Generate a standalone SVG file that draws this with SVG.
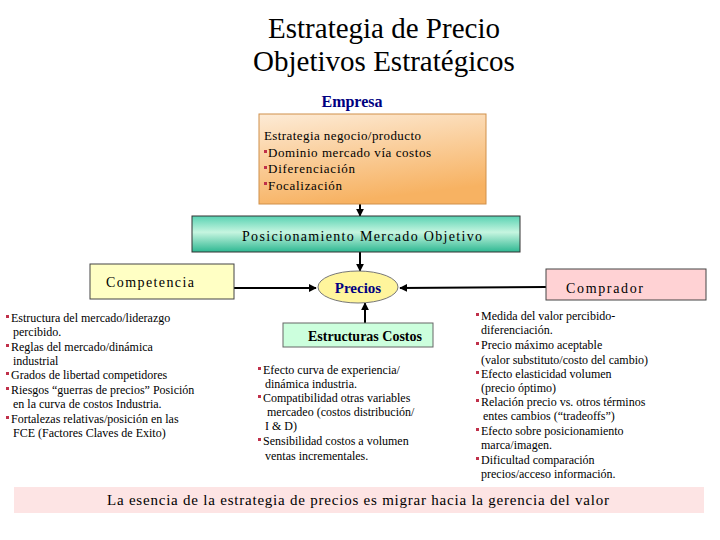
<svg xmlns="http://www.w3.org/2000/svg" width="720" height="540" viewBox="0 0 720 540" font-family="'Liberation Serif', 'Times New Roman', 'DejaVu Serif', serif">
<style>
text{font-family:'Liberation Serif','Times New Roman','DejaVu Serif',serif;fill:#000}
.title{font-size:29px}
.body{font-size:12px}
.bul{fill:#c0304a}
.conn{stroke:#000;stroke-width:2;fill:none}
</style>
<defs>
<linearGradient id="gOr" x1="0" y1="0" x2="0.3" y2="1">
<stop offset="0" stop-color="#fdebd6"/><stop offset="1" stop-color="#f7b262"/>
</linearGradient>
<linearGradient id="gGr" x1="0" y1="0" x2="0" y2="1">
<stop offset="0" stop-color="#58d2b2"/><stop offset="0.45" stop-color="#c6f5e0"/><stop offset="1" stop-color="#2eb892"/>
</linearGradient>
<marker id="ah" viewBox="0 0 10 10" refX="9" refY="5" markerWidth="4" markerHeight="4" orient="auto">
<path d="M0,0 L10,5 L0,10 z" fill="#000"/>
</marker>
</defs>
<rect width="720" height="540" fill="#fff"/>
<g id="title">
<text class="title" x="384" y="38" text-anchor="middle">Estrategia de Precio</text>
<text class="title" x="384" y="71" text-anchor="middle">Objetivos Estratégicos</text>
</g>
<g id="connectors">
<line class="conn" x1="360" y1="204" x2="360" y2="216" marker-end="url(#ah)"/>
<line class="conn" x1="360" y1="252" x2="360" y2="271" marker-end="url(#ah)"/>
<line class="conn" x1="234" y1="288" x2="316" y2="288" marker-end="url(#ah)"/>
<line class="conn" x1="546" y1="287" x2="400" y2="288" marker-end="url(#ah)"/>
<line class="conn" x1="365" y1="323" x2="365" y2="303" marker-end="url(#ah)"/>
</g>
<g id="empresa">
<text x="352" y="107" text-anchor="middle" font-size="16" font-weight="bold" style="fill:#000080">Empresa</text>
<rect x="259" y="114" width="227" height="90" fill="url(#gOr)" stroke="#d0904a" stroke-width="1"/>
<text x="264" y="140" textLength="157" lengthAdjust="spacing" style="font-size:13px">Estrategia negocio/producto</text>
<rect class="bul" x="264" y="150" width="3" height="3"/>
<text x="268" y="157" textLength="163" lengthAdjust="spacing" style="font-size:13px">Dominio mercado vía costos</text>
<rect class="bul" x="264" y="166" width="3" height="3"/>
<text x="268" y="173" textLength="87" lengthAdjust="spacing" style="font-size:13px">Diferenciación</text>
<rect class="bul" x="264" y="182" width="3" height="3"/>
<text x="268" y="190" textLength="74" lengthAdjust="spacing" style="font-size:13px">Focalización</text>
</g>
<g id="posicionamiento">
<rect x="192" y="216" width="328" height="36" fill="url(#gGr)" stroke="#333" stroke-width="1"/>
<text x="242" y="241" textLength="240" lengthAdjust="spacing" style="font-size:14px">Posicionamiento Mercado Objetivo</text>
</g>
<g id="competencia">
<rect x="90" y="264" width="144" height="35" fill="#ffffc4" stroke="#444" stroke-width="1"/>
<text x="106" y="287" textLength="88" lengthAdjust="spacing" style="font-size:14px">Competencia</text>
<rect class="bul" x="6" y="315" width="3" height="3"/>
<text class="body" x="11" y="322">Estructura del mercado/liderazgo</text>
<text class="body" x="13" y="336">percibido.</text>
<rect class="bul" x="6" y="344" width="3" height="3"/>
<text class="body" x="11" y="351">Reglas del mercado/dinámica</text>
<text class="body" x="13" y="365">industrial</text>
<rect class="bul" x="6" y="372" width="3" height="3"/>
<text class="body" x="11" y="379">Grados de libertad competidores</text>
<rect class="bul" x="6" y="387" width="3" height="3"/>
<text class="body" x="11" y="394">Riesgos “guerras de precios” Posición</text>
<text class="body" x="13" y="408">en la curva de costos Industria.</text>
<rect class="bul" x="6" y="416" width="3" height="3"/>
<text class="body" x="11" y="423">Fortalezas relativas/posición en las</text>
<text class="body" x="13" y="437">FCE (Factores Claves de Exito)</text>
</g>
<g id="precios">
<ellipse cx="358" cy="287" rx="40" ry="16" fill="#fff59c" stroke="#777" stroke-width="1"/>
<text x="358" y="293" text-anchor="middle" font-size="15" font-weight="bold" style="fill:#000080">Precios</text>
</g>
<g id="comprador">
<rect x="546" y="269" width="160" height="31" fill="#ffd2d4" stroke="#444" stroke-width="1"/>
<text x="566" y="293" textLength="77" lengthAdjust="spacing" style="font-size:14px">Comprador</text>
<rect class="bul" x="476" y="313" width="3" height="3"/>
<text class="body" x="481" y="320">Medida del valor percibido-</text>
<text class="body" x="481" y="334">diferenciación.</text>
<rect class="bul" x="476" y="342" width="3" height="3"/>
<text class="body" x="481" y="349">Precio máximo aceptable</text>
<text class="body" x="481" y="364">(valor substituto/costo del cambio)</text>
<rect class="bul" x="476" y="371" width="3" height="3"/>
<text class="body" x="481" y="378">Efecto elasticidad volumen</text>
<text class="body" x="481" y="392">(precio óptimo)</text>
<rect class="bul" x="476" y="399" width="3" height="3"/>
<text class="body" x="481" y="406">Relación precio vs.  otros términos</text>
<text class="body" x="483" y="420">entes cambios (“tradeoffs”)</text>
<rect class="bul" x="476" y="428" width="3" height="3"/>
<text class="body" x="481" y="435">Efecto sobre posicionamiento</text>
<text class="body" x="481" y="449">marca/imagen.</text>
<rect class="bul" x="476" y="457" width="3" height="3"/>
<text class="body" x="481" y="464">Dificultad comparación</text>
<text class="body" x="481" y="478">precios/acceso información.</text>
</g>
<g id="estructuras">
<rect x="283" y="323" width="150" height="24" fill="#ccffdd" stroke="#666" stroke-width="1"/>
<text x="365" y="341" text-anchor="middle" font-size="14" font-weight="bold">Estructuras Costos</text>
<rect class="bul" x="258" y="367" width="3" height="3"/>
<text class="body" x="263" y="374">Efecto curva de experiencia/</text>
<text class="body" x="265" y="388">dinámica industria.</text>
<rect class="bul" x="258" y="395" width="3" height="3"/>
<text class="body" x="263" y="402">Compatibilidad otras variables</text>
<text class="body" x="267" y="416">mercadeo (costos distribución/</text>
<text class="body" x="265" y="430">I &amp; D)</text>
<rect class="bul" x="258" y="438" width="3" height="3"/>
<text class="body" x="263" y="445">Sensibilidad costos a volumen</text>
<text class="body" x="265" y="460">ventas incrementales.</text>
</g>
<g id="banner">
<rect x="14" y="487" width="690" height="26" fill="#fde4e4"/>
<text x="358" y="505" text-anchor="middle" textLength="502" lengthAdjust="spacing" style="font-size:15px">La esencia de la estrategia de precios es migrar hacia la gerencia del valor</text>
</g>
</svg>
